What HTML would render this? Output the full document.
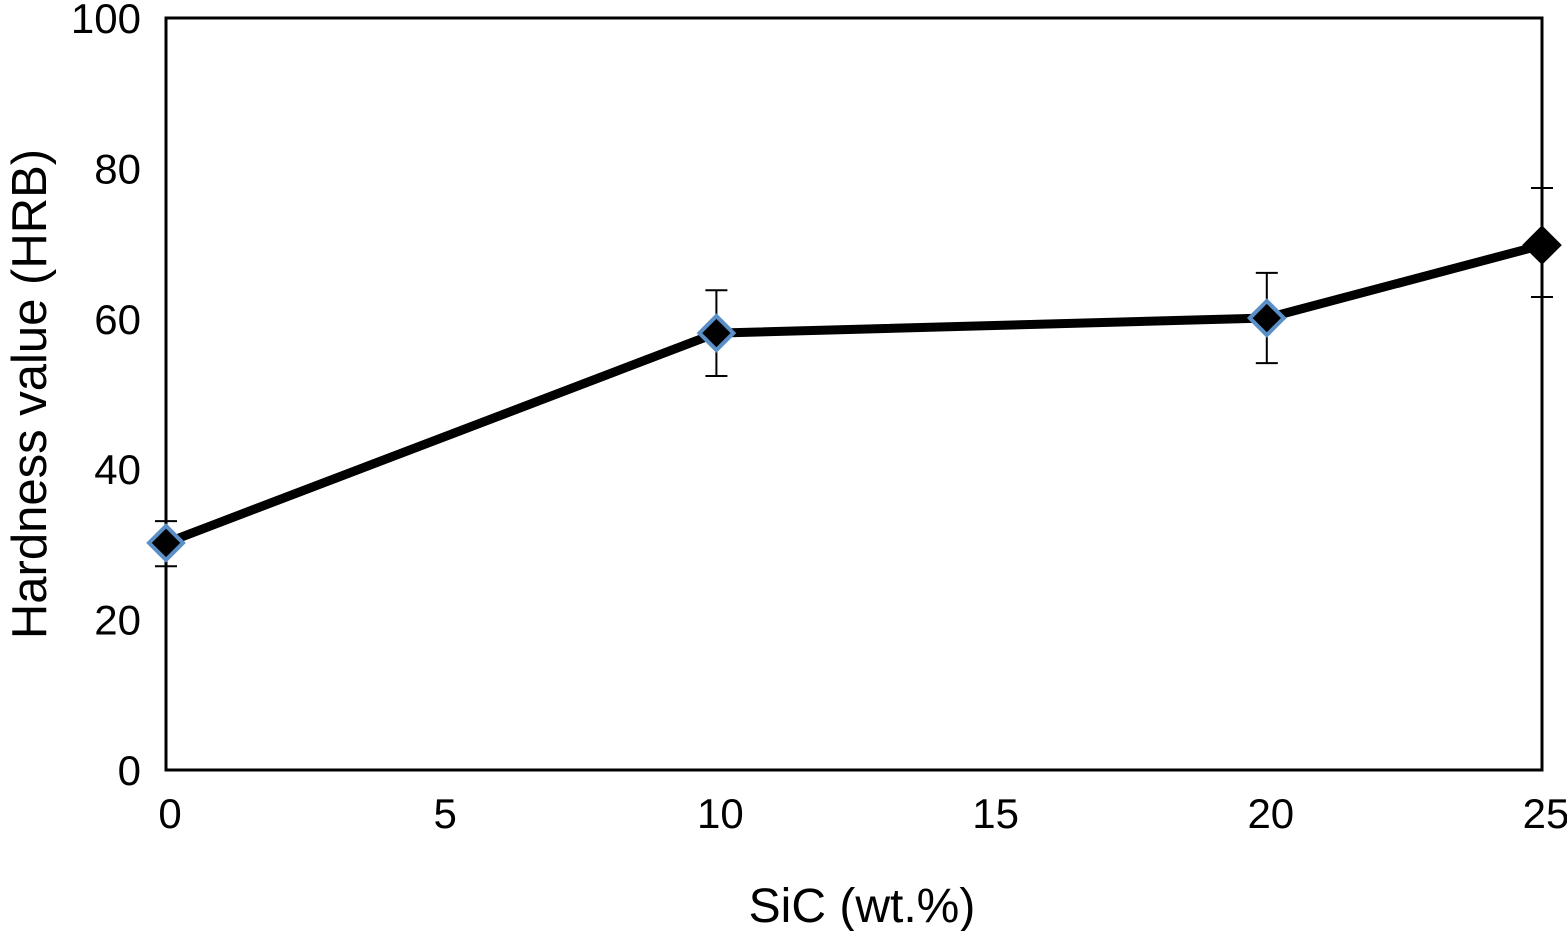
<!DOCTYPE html>
<html><head><meta charset="utf-8"><style>
html,body{margin:0;padding:0;background:#fff;}
svg text{font-family:"Liberation Sans",Arial,sans-serif;fill:#000;}
</style></head><body>
<svg id="chart" width="1567" height="931" viewBox="0 0 1567 931" xmlns="http://www.w3.org/2000/svg">
<rect x="166" y="18" width="1376" height="752" fill="none" stroke="#000" stroke-width="3"/>
<g id="yt"></g>
<g id="xt"></g>
<g id="series"></g>
<text transform="translate(46,394) rotate(-90)" text-anchor="middle" font-size="49">Hardness value (HRB)</text>
<text x="862" y="922" text-anchor="middle" font-size="48">SiC (wt.%)</text>
</svg>
<script>
const xs = [0, 10, 20, 25];
const ys = [30.2, 58.1, 60.1, 69.8];
const errHi = [33.1, 63.8, 66.1, 77.4];
const errLo = [27.1, 52.4, 54.1, 62.9];
const blueEdge = [true, true, true, false];
const yTicks = [0, 20, 40, 60, 80, 100];
const xTicks = [0, 5, 10, 15, 20, 25];
const NS = "http://www.w3.org/2000/svg";
const X0 = 166, X1 = 1542, Y0 = 770, Y1 = 18;
const sx = v => X0 + (v - 0) / 25 * (X1 - X0);
const sy = v => Y0 - v / 100 * (Y0 - Y1);
function mk(tag, attrs, parent) { const e = document.createElementNS(NS, tag); for (const k in attrs) e.setAttribute(k, attrs[k]); parent.appendChild(e); return e; }
const yt = document.getElementById('yt'), xt = document.getElementById('xt'), g = document.getElementById('series');
yTicks.forEach(t => {
  const e = mk('text', {x: 141, y: sy(t) + 15, 'text-anchor': 'end', 'font-size': 42}, yt);
  e.textContent = t;
  
  
});
xTicks.forEach(t => {
  const e = mk('text', {x: sx(t) + 4, y: 828, 'text-anchor': 'middle', 'font-size': 42}, xt);
  e.textContent = t;
  
  
});
xs.forEach((x, i) => {
  const cx = sx(x);
  const eb = mk('path', {d: `M${cx},${sy(errHi[i])}V${sy(errLo[i])}M${cx-11},${sy(errHi[i])}H${cx+11}M${cx-11},${sy(errLo[i])}H${cx+11}`, stroke: '#000', 'stroke-width': 2, fill: 'none'}, g);
  
  
});
const line = mk('polyline', {points: xs.map((x, i) => sx(x) + ',' + sy(ys[i])).join(' '), fill: 'none', stroke: '#000', 'stroke-width': 9, 'stroke-linejoin': 'round'}, g);


xs.forEach((x, i) => {
  const cx = sx(x), cy = sy(ys[i]), r = 17;
  const m = mk('polygon', {points: `${cx},${cy-r} ${cx+r},${cy} ${cx},${cy+r} ${cx-r},${cy}`, fill: '#000', stroke: blueEdge[i] ? '#5b8fc7' : '#000', 'stroke-width': 4}, g);
  
  
});
</script>
</body></html>
